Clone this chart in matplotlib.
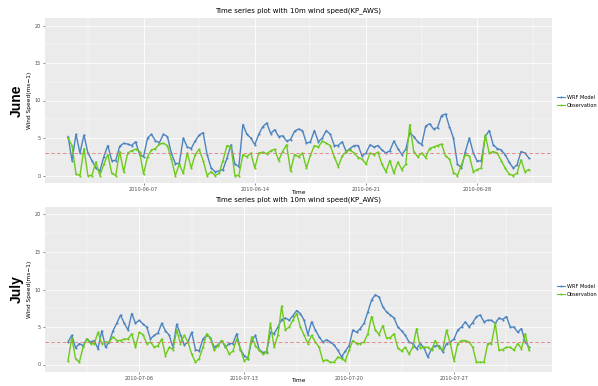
import matplotlib
matplotlib.use("Agg")
import matplotlib.pyplot as plt
import pandas as pd

# ---------------- data (6-hourly values) ----------------
june_start = "2010-06-02 06:00"
june_wrf = [5.2, 2.0, 5.5,
            3.0, 5.4, 3.0, 2.0,
            1.0, 0.6, 2.5, 4.0,
            2.0, 2.0, 3.9, 4.3,
            4.2, 4.0, 4.5, 2.8,
            2.5, 5.0, 5.5, 4.6,
            4.4, 5.5, 5.2, 3.0,
            1.6, 1.6, 5.0, 3.8,
            3.6, 4.6, 5.4, 5.7,
            2.8, 1.0, 0.5, 0.6,
            0.8, 2.3, 4.1, 1.5,
            1.2, 6.8, 5.5, 5.0,
            4.1, 5.5, 6.5, 7.0,
            5.6, 6.1, 5.2, 5.3,
            4.6, 4.8, 5.9, 6.2,
            6.0, 4.3, 4.5, 6.0,
            4.5, 5.0, 6.0, 5.5,
            4.0, 4.0, 4.5, 3.2,
            3.6, 4.0, 4.0, 2.6,
            3.0, 4.1, 3.8, 4.0,
            3.4, 3.0, 3.3, 4.6,
            3.6, 2.8, 3.5, 5.7,
            5.2, 4.5, 4.1, 6.6,
            6.9, 6.2, 6.4, 8.0,
            8.2, 6.5, 5.0, 1.5,
            1.0, 3.2, 5.0, 3.0,
            1.9, 2.0, 5.2, 6.0,
            4.1, 3.6, 3.4, 2.8,
            1.8, 1.0, 1.4, 3.2,
            3.0, 2.3]
june_obs = [5.0, 4.0, 0.2,
            0.0, 3.6, 0.0, 0.0,
            1.8, 0.0, 1.5, 2.8,
            0.3, 0.0, 3.2, 0.5,
            3.0, 3.3, 3.5, 3.2,
            0.2, 2.5, 3.4, 3.6,
            4.2, 4.3, 4.0, 2.2,
            0.0, 1.5, 0.3, 3.0,
            1.0, 2.8, 3.5, 2.0,
            0.0, 0.5, 0.0, 0.3,
            2.0, 4.0, 3.8, 0.0,
            0.0, 2.8, 2.5, 3.0,
            1.0, 3.0, 3.1, 2.9,
            3.3, 3.5, 2.0, 3.2,
            4.1, 0.6, 2.8, 2.5,
            3.0, 1.0, 2.7, 4.0,
            3.8, 4.6, 4.3, 4.0,
            2.5, 1.2, 2.6, 3.2,
            3.4, 3.0, 2.4, 2.2,
            1.5, 3.0, 2.8, 3.1,
            1.5, 0.5, 2.0, 0.3,
            1.8, 0.8, 1.5, 6.8,
            3.2, 2.5, 3.0, 2.4,
            3.6, 3.8, 4.0, 4.2,
            2.6, 2.2, 0.4, 0.0,
            1.4, 2.8, 2.6, 0.5,
            0.8, 1.0, 5.4, 3.0,
            3.2, 3.0, 2.0, 1.0,
            0.2, 0.0, 0.3, 2.1,
            0.5, 0.8]

july_start = "2010-07-01 06:00"
july_wrf = [3.0, 3.9, 2.2,
            2.8, 2.5, 3.4, 3.0,
            3.2, 2.1, 4.5, 2.3,
            3.0, 4.5, 5.5, 6.6,
            5.5, 4.6, 6.8, 5.5,
            5.9, 5.4, 5.0, 3.4,
            3.9, 4.2, 5.5, 4.5,
            3.9, 2.3, 5.4, 4.0,
            2.6, 3.0, 4.3, 2.0,
            1.8, 3.4, 3.9, 3.6,
            2.3, 2.6, 3.2, 2.3,
            2.8, 2.8, 4.1, 2.0,
            1.2, 0.8, 3.2, 3.9,
            2.0, 1.6, 1.7, 4.3,
            4.1, 5.0, 6.0, 6.2,
            5.9, 6.5, 7.2, 6.8,
            5.9, 4.0, 5.7, 4.6,
            3.7, 3.0, 3.3, 3.0,
            2.6, 1.9, 1.0, 1.8,
            2.5, 4.6, 4.3, 4.8,
            5.5, 7.0, 8.6, 9.3,
            9.0, 7.7, 7.0, 6.6,
            6.2, 5.0, 4.5, 3.9,
            3.0, 2.8, 2.1, 2.8,
            2.2, 1.0, 2.1, 2.5,
            2.5, 1.7, 2.8, 3.0,
            3.4, 4.6, 5.0, 5.7,
            5.0, 5.6, 6.4, 6.6,
            5.7, 5.9, 5.9, 5.5,
            6.2, 6.0, 6.4, 5.0,
            5.0, 4.3, 4.8, 3.0,
            2.3]
july_obs = [0.5, 3.6, 0.8,
            0.3, 2.3, 3.4, 2.8,
            2.8, 4.3, 2.8, 3.0,
            3.0, 3.7, 3.2, 3.2,
            3.4, 3.4, 4.1, 2.3,
            4.3, 4.0, 2.8, 3.0,
            2.3, 2.5, 3.4, 1.2,
            2.3, 2.0, 4.6, 2.8,
            3.9, 3.0, 1.4, 0.3,
            0.8, 2.3, 4.1, 3.5,
            1.9, 2.5, 3.2, 2.5,
            1.4, 1.8, 3.4, 2.1,
            0.5, 0.8, 3.7, 2.5,
            1.9, 1.4, 1.6, 5.5,
            2.3, 3.9, 7.8, 4.6,
            5.0, 5.9, 6.8, 5.0,
            3.9, 2.8, 3.9, 3.0,
            2.3, 0.5, 0.6, 0.3,
            0.3, 1.0, 0.8, 0.5,
            1.9, 3.2, 2.8, 2.8,
            3.0, 4.1, 6.4, 4.6,
            4.0, 5.2, 3.5, 3.6,
            4.1, 2.2, 1.8, 2.3,
            1.4, 2.3, 4.8, 2.2,
            2.3, 2.3, 1.9, 3.2,
            2.2, 2.0, 4.6, 2.8,
            0.5, 2.8, 3.2, 3.2,
            3.0, 2.3, 0.3, 0.3,
            0.3, 2.8, 2.8, 5.5,
            1.9, 2.0, 2.3, 2.3,
            1.9, 2.8, 2.1, 4.1,
            1.9]

june_ticks = ["2010-06-07", "2010-06-14", "2010-06-21", "2010-06-28"]
july_ticks = ["2010-07-06", "2010-07-13", "2010-07-20", "2010-07-27"]
threshold = 3.0
y_ticks = [0, 5, 10, 15, 20]
title = "Time series plot with 10m wind speed(KP_AWS)"
series_names = ["WRF Model", "Observation"]
month_names = ["June", "July"]

# ---------------- style ----------------
BLUE = "#4C84C0"
GREEN = "#6CCB1A"
RED = "#E07A7A"
PANEL = "#EBEBEB"
TXT = "#4D4D4D"

W, H = 598, 386
fig = plt.figure(figsize=(W / 100, H / 100), dpi=100)
fig.patch.set_facecolor("white")

def fx(px):
    return px / W

def fy(py):
    return 1 - py / H

panels = [
    dict(top=18, bottom=183, start=june_start, wrf=june_wrf, obs=june_obs,
         ticks=june_ticks, name=month_names[0], title_y=11, xl_y=192, leg_y=101.5),
    dict(top=207, bottom=372, start=july_start, wrf=july_wrf, obs=july_obs,
         ticks=july_ticks, name=month_names[1], title_y=200, xl_y=380, leg_y=290),
]

left_px, right_px = 45, 552
for p in panels:
    ax = fig.add_axes([fx(left_px), fy(p["bottom"]), fx(right_px - left_px),
                       (p["bottom"] - p["top"]) / H])
    ax.set_facecolor(PANEL)
    t = pd.date_range(p["start"], periods=len(p["wrf"]), freq="6h")
    ax.plot(t, p["wrf"], color=BLUE, lw=1.0, marker="o", ms=1.5, mew=0,
            label=series_names[0], zorder=3)
    ax.plot(t, p["obs"], color=GREEN, lw=1.0, marker="o", ms=1.5, mew=0,
            label=series_names[1], zorder=4)
    ax.axhline(threshold, color=RED, lw=0.6, ls=(0, (4, 3)), zorder=5)

    ax.margins(x=0.05)
    ax.set_ylim(-1, 21)
    ax.set_yticks(y_ticks)
    ax.set_yticks([2.5, 7.5, 12.5, 17.5], minor=True)
    tick_dates = pd.to_datetime(p["ticks"])
    ax.set_xticks(tick_dates)
    ax.set_xticklabels(p["ticks"])
    minor = [d - pd.Timedelta(hours=84) for d in tick_dates] + \
            [tick_dates[-1] + pd.Timedelta(hours=84)]
    ax.set_xticks(minor, minor=True)

    ax.grid(which="major", color="white", lw=0.6)
    ax.grid(which="minor", color="white", lw=0.3)
    ax.set_axisbelow(True)
    for s in ax.spines.values():
        s.set_visible(False)
    ax.tick_params(which="major", length=1.5, width=0.4, color="#333333",
                   labelsize=3.6, labelcolor=TXT, pad=1.5)
    ax.tick_params(which="minor", length=0)

    ax.set_ylabel("Wind Speed(ms\u22121)", fontsize=4.2, labelpad=1.5)
    fig.text(fx((left_px + right_px) / 2), fy(p["xl_y"]), "Time",
             ha="center", va="center", fontsize=4.2)
    fig.text(fx((left_px + right_px) / 2), fy(p["title_y"]), title,
             ha="center", va="center", fontsize=5.0)
    fig.text(fx(17), fy((p["top"] + p["bottom"]) / 2 - 0),
             p["name"], rotation=90, ha="center", va="center",
             fontsize=10, fontweight="bold", family="Liberation Sans")

    leg = ax.legend(loc="center left",
                    bbox_to_anchor=(1.005, (p["bottom"] - p["leg_y"]) / (p["bottom"] - p["top"])),
                    frameon=False, fontsize=3.6, handlelength=1.6,
                    handletextpad=0.5, labelspacing=0.6, borderaxespad=0)
    for line in leg.get_lines():
        line.set_linewidth(0.8)

fig.savefig("out.png", dpi=100)
